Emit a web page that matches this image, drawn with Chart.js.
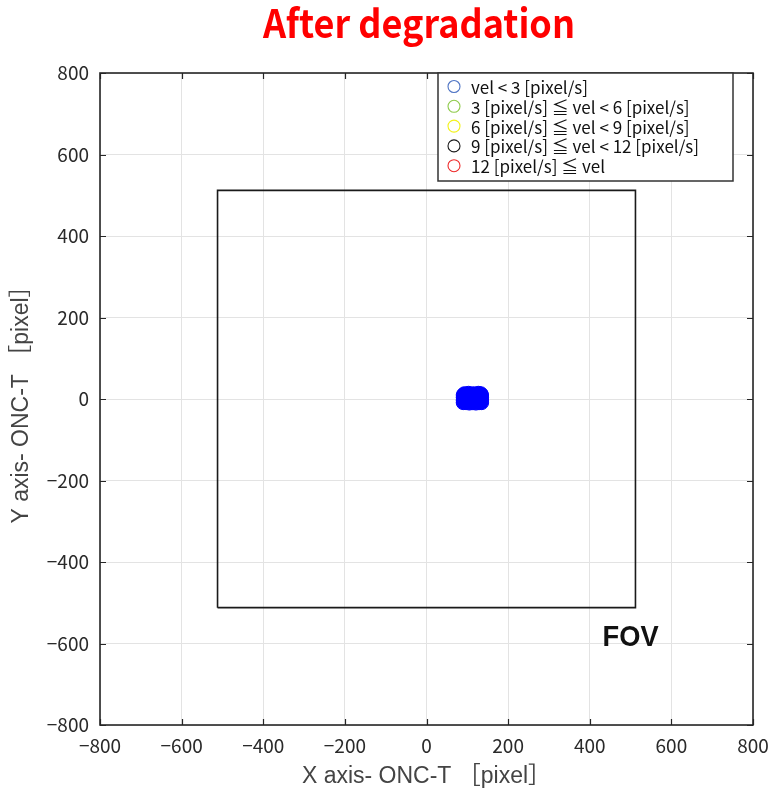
<!DOCTYPE html>
<html>
<head>
<meta charset="utf-8">
<script src="https://cdn.jsdelivr.net/npm/chart.js@4/dist/chart.umd.min.js"></script>
<style>
  html, body { margin: 0; padding: 0; background: #fff; }
  #wrap { width: 771px; height: 790px; }
</style>
</head>
<body>
<div id="wrap"><canvas id="c" width="771" height="790"></canvas></div>
<script>
// Axis ticks (pixels on the ONC-T detector)
const tickValues = [-800, -600, -400, -200, 0, 200, 400, 600, 800];

// Velocity classes shown in the legend
const classLabels = [
  'vel < 3 [pixel/s]',
  '3 [pixel/s] \u2266 vel < 6 [pixel/s]',
  '6 [pixel/s] \u2266 vel < 9 [pixel/s]',
  '9 [pixel/s] \u2266 vel < 12 [pixel/s]',
  '12 [pixel/s] \u2266 vel'
];
const classColors = ['#4f74c4', '#8fca4a', '#f2f21a', '#1a1a1a', '#ee2a2a'];

// Tracked positions, slowest class (vel < 3 pixel/s)
const slowX = [90, 97, 105, 113, 121, 129, 135,
               90, 97, 105, 113, 121, 129, 135,
               90, 97, 105, 113, 121, 129, 135,
               90, 97, 105, 113, 121, 129, 135,
               93, 103, 115, 127, 133];
const slowY = [-9, -9, -10, -9, -10, -9, -9,
               -3, -2, -4, -3, -2, -4, -3,
               4, 5, 3, 4, 5, 3, 4,
               10, 11, 9, 10, 11, 9, 10,
               13, 14, 13, 14, 13];
// The other velocity classes have no samples after degradation
const classX = [slowX, [], [], [], []];
const classY = [slowY, [], [], [], []];

// Field of view outline of ONC-T
const fovX = [-512, 512, 512, -512, -512];
const fovY = [-512, -512, 512, 512, -512];
const fovLabel = { text: 'FOV', x: 500, y: -578 };

const toPts = (xs, ys) => xs.map((x, i) => ({ x: x, y: ys[i] }));

const datasets = classLabels.map((lab, i) => ({
  label: lab,
  data: toPts(classX[i], classY[i]),
  pointRadius: 7,
  pointBorderWidth: 1,
  backgroundColor: i === 0 ? '#0000ff' : classColors[i],
  borderColor: i === 0 ? '#0000ff' : classColors[i],
  showLine: false
}));
datasets.push({
  label: 'FOV',
  data: toPts(fovX, fovY),
  showLine: true,
  pointRadius: 0,
  borderColor: '#1a1a1a',
  borderWidth: 1.6,
  fill: false
});

const FONT_TICK = '"Noto Sans CJK JP", sans-serif';
const FONT_JP = '"Noto Sans CJK JP", sans-serif';
const FONT_AXIS = '"Liberation Sans", "Noto Sans CJK JP", sans-serif';

// draw text squeezed horizontally to a given width
function fitText(ctx, text, cx, baseY, width) {
  const w = ctx.measureText(text).width;
  ctx.save();
  ctx.translate(cx, baseY);
  ctx.scale(width / w, 1);
  ctx.textAlign = 'center';
  ctx.textBaseline = 'alphabetic';
  ctx.fillText(text, 0, 0);
  ctx.restore();
}

// Frame, inward tick marks, title, FOV label and legend box
const decor = {
  id: 'decor',
  afterDatasetsDraw(chart) {
    const { ctx, chartArea: a, scales } = chart;
    const sx = scales.x, sy = scales.y;
    ctx.save();
    ctx.strokeStyle = '#262626';
    ctx.lineWidth = 1.2;
    tickValues.forEach(v => {
      const px = Math.round(sx.getPixelForValue(v)) + 0.5;
      ctx.beginPath();
      ctx.moveTo(px, a.bottom); ctx.lineTo(px, a.bottom - 6);
      ctx.moveTo(px, a.top); ctx.lineTo(px, a.top + 6);
      ctx.stroke();
      const py = Math.round(sy.getPixelForValue(v)) + 0.5;
      ctx.beginPath();
      ctx.moveTo(a.left, py); ctx.lineTo(a.left + 6, py);
      ctx.moveTo(a.right, py); ctx.lineTo(a.right - 6, py);
      ctx.stroke();
    });
    ctx.lineWidth = 1.6;
    ctx.strokeRect(a.left, a.top, a.right - a.left, a.bottom - a.top);

    // FOV label
    ctx.fillStyle = '#111';
    ctx.font = 'bold 30px ' + FONT_AXIS;
    fitText(ctx, fovLabel.text, sx.getPixelForValue(fovLabel.x),
            sy.getPixelForValue(fovLabel.y) + 11, 56);

    // legend
    const lx = 438, ly = 73, lw = 295, lh = 108;
    ctx.fillStyle = '#fff';
    ctx.fillRect(lx, ly, lw, lh);
    ctx.strokeStyle = '#333';
    ctx.lineWidth = 1.5;
    ctx.strokeRect(lx, ly, lw, lh);
    ctx.font = '17px ' + FONT_JP;
    ctx.textAlign = 'left';
    ctx.textBaseline = 'middle';
    classLabels.forEach((lab, i) => {
      const cy = ly + 13.5 + i * 19.8;
      ctx.beginPath();
      ctx.arc(lx + 16, cy, 6, 0, Math.PI * 2);
      ctx.strokeStyle = classColors[i];
      ctx.lineWidth = 1.1;
      ctx.stroke();
      ctx.fillStyle = '#111';
      ctx.fillText(lab, lx + 33, cy + 1);
    });

    // title
    ctx.fillStyle = '#ff0000';
    ctx.font = 'bold 39px ' + FONT_JP;
    fitText(ctx, 'After degradation', 419, 38, 312);
    ctx.restore();
  }
};

const minusFmt = v => (v < 0 ? '\u2212' + Math.abs(v) : String(v));

new Chart(document.getElementById('c'), {
  type: 'scatter',
  data: { datasets: datasets },
  options: {
    responsive: false,
    animation: false,
    devicePixelRatio: 1,
    layout: { padding: { top: 73, right: 18, left: 0, bottom: 0 } },
    plugins: { legend: { display: false }, tooltip: { enabled: false }, title: { display: false } },
    scales: {
      x: {
        type: 'linear', min: -800, max: 800,
        afterBuildTicks: s => { s.ticks = tickValues.map(v => ({ value: v })); },
        afterFit: s => { s.height = 65; s.paddingLeft = 0; s.paddingRight = 0; },
        grid: { color: '#e3e3e3', lineWidth: 1, drawTicks: false },
        border: { display: false },
        ticks: { callback: minusFmt, color: '#2a2a2a', padding: 9, maxRotation: 0,
                 font: { family: FONT_TICK, size: 19 } },
        title: { display: true, text: 'X axis- ONC-T \uFF3Bpixel\uFF3D', color: '#444',
                 font: { family: FONT_AXIS, size: 23 }, padding: { top: 2, bottom: 0 } }
      },
      y: {
        type: 'linear', min: -800, max: 800,
        afterBuildTicks: s => { s.ticks = tickValues.map(v => ({ value: v })); },
        afterFit: s => { s.width = 100; s.paddingTop = 0; s.paddingBottom = 0; },
        grid: { color: '#e3e3e3', lineWidth: 1, drawTicks: false },
        border: { display: false },
        ticks: { callback: minusFmt, color: '#2a2a2a', padding: 11,
                 font: { family: FONT_TICK, size: 19 } },
        title: { display: true, text: 'Y axis- ONC-T \uFF3Bpixel\uFF3D', color: '#444',
                 font: { family: FONT_AXIS, size: 23 }, padding: { top: 8, bottom: 2 } }
      }
    }
  },
  plugins: [decor]
});
</script>
</body>
</html>
